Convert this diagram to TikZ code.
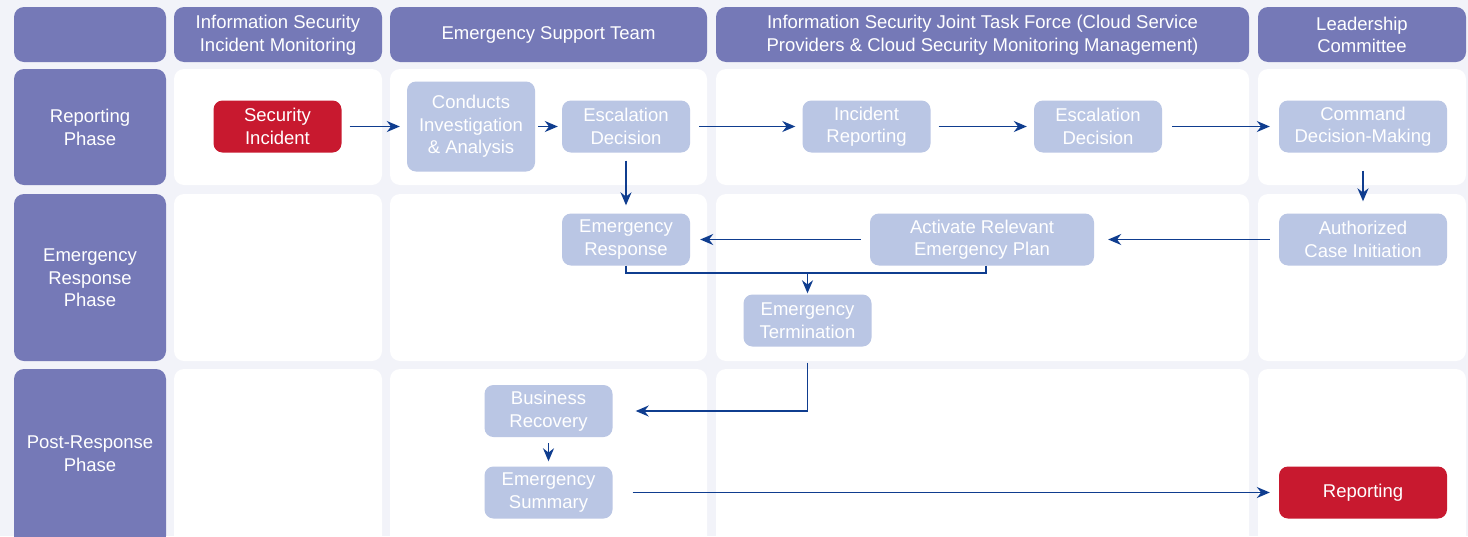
\documentclass[tikz,border=0pt]{standalone}
\usepackage{fontspec}
\setmainfont{Liberation Sans}
\usetikzlibrary{arrows.meta}
\definecolor{bgc}{HTML}{F2F3F9}
\definecolor{hdr}{HTML}{7579B7}
\definecolor{stepc}{HTML}{BAC6E4}
\definecolor{redc}{HTML}{C8192F}
\definecolor{arrc}{HTML}{0F3D8F}
\begin{document}
\begin{tikzpicture}[x=1pt,y=-1pt,
  hcell/.style={fill=hdr,rounded corners=10pt},
  wcell/.style={fill=white,rounded corners=10pt},
  htext/.style={text=white,font=\fontsize{18.5}{22.5}\selectfont,align=center},
  stepbox/.style={fill=stepc,rounded corners=9pt,text=white,font=\fontsize{18.5}{22.5}\selectfont,align=center,inner sep=0pt,minimum height=52pt,minimum width=128pt},
  redbox/.style={stepbox,fill=redc},
  ln/.style={draw=arrc,line width=1.6pt},
  arr/.style={ln,-{Stealth[length=13pt,width=11pt]}}
]
\useasboundingbox (0,0) rectangle (1468,536);
\fill[bgc] (0,0) rectangle (1468,536);
% header row
\fill[hcell] (14,7) rectangle (166,62);
\fill[hcell] (174,7) rectangle (382,62);
\fill[hcell] (390,7) rectangle (707,62);
\fill[hcell] (716,7) rectangle (1249,62);
\fill[hcell] (1258,7) rectangle (1466,62);
\node[htext] (h1) at (278,35) {Information Security\\Incident Monitoring};
\node[htext] (h2) at (548.5,35) {Emergency Support Team};
\node[htext] (h3) at (982.5,35) {Information Security Joint Task Force (Cloud Service\\Providers \& Cloud Security Monitoring Management)};
\node[htext] (h4) at (1362,35) {Leadership\\Committee};
% phase column
\fill[hcell] (14,69) rectangle (166,185);
\fill[hcell] (14,194) rectangle (166,361);
\fill[hcell] (14,369) rectangle (166,546);
\node[htext] (p1) at (90,127.5) {Reporting\\Phase};
\node[htext] (p2) at (90,278) {Emergency\\Response\\Phase};
\node[htext] (p3) at (90,453.5) {Post-Response\\Phase};
% white cells
\foreach \xa/\xb in {174/382,390/707,716/1249,1258/1466}{
  \fill[wcell] (\xa,69) rectangle (\xb,185);
  \fill[wcell] (\xa,194) rectangle (\xb,361);
  \fill[wcell] (\xa,369) rectangle (\xb,546);
}
% nodes
\node[redbox] (si) at (277.5,126.5) {Security\\Incident};
\node[stepbox,minimum height=90pt] (cia) at (471,126.5) {Conducts\\Investigation\\\& Analysis};
\node[stepbox] (ed) at (626,126.5) {Escalation\\Decision};
\node[stepbox] (ir) at (866.5,126.5) {Incident\\Reporting};
\node[stepbox] (ed2) at (1098,126.5) {Escalation\\Decision};
\node[stepbox,minimum width=168pt] (cdm) at (1363,126.5) {Command\\Decision-Making};
\node[stepbox] (er) at (626,239.5) {Emergency\\Response};
\node[stepbox,minimum width=224pt] (arp) at (982,239.5) {Activate Relevant\\Emergency Plan};
\node[stepbox,minimum width=168pt] (aci) at (1363,239.5) {Authorized\\Case Initiation};
\node[stepbox] (et) at (807.5,320.5) {Emergency\\Termination};
\node[stepbox] (br) at (548.5,411) {Business\\Recovery};
\node[stepbox] (es) at (548.5,492.5) {Emergency\\Summary};
\node[redbox,minimum width=168pt] (rep) at (1363,492.5) {Reporting};
\coordinate (j) at (807.5,273);
% connectors
\draw[arr,shorten <=8pt,shorten >=7pt] (si) -- (cia);
\draw[arr,shorten <=3pt,shorten >=4pt] (cia) -- (ed);
\draw[arr,shorten <=9pt,shorten >=7pt] (ed) -- (ir);
\draw[arr,shorten <=8pt,shorten >=7pt] (ir) -- (ed2);
\draw[arr,shorten <=10pt,shorten >=9pt] (ed2) -- (cdm);
\draw[arr,shorten <=18pt,shorten >=12pt] (cdm) -- (aci);
\draw[arr,shorten <=8pt,shorten >=8pt] (ed) -- (er);
\draw[arr,shorten <=9pt,shorten >=14pt] (aci) -- (arp);
\draw[arr,shorten <=9pt,shorten >=10pt] (arp) -- (er);
\draw[ln] (er.south) |- (j);
\draw[ln] ([xshift=4pt]arp.south) |- (j);
\draw[arr,shorten >=1pt] (j) -- (et.north);
\draw[arr,shorten <=16pt,shorten >=23pt] (et.south) |- (br.east);
\draw[arr,shorten <=6pt,shorten >=5pt] (br) -- (es);
\draw[arr,shorten <=20pt,shorten >=9pt] (es) -- (rep);
\end{tikzpicture}
\end{document}
